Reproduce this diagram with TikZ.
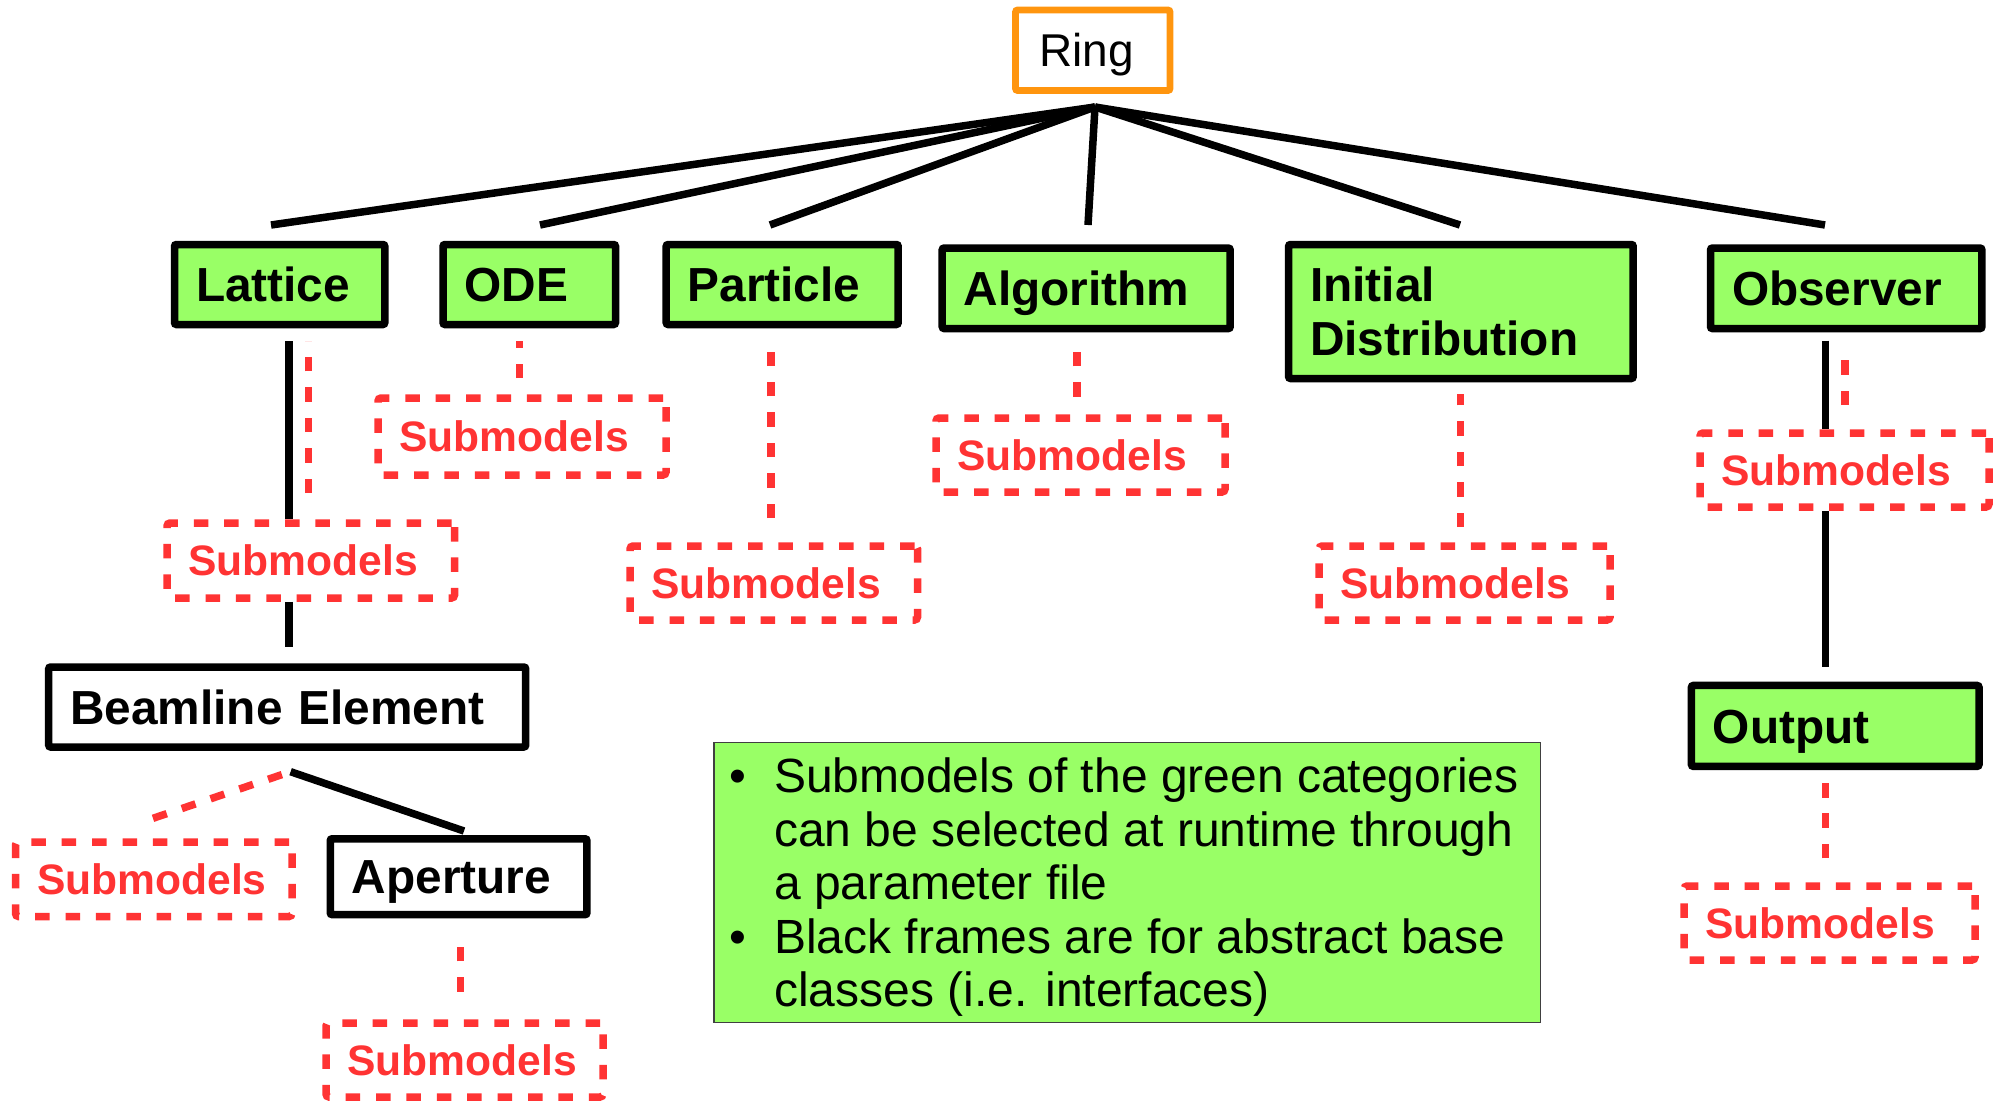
\documentclass[tikz,border=0pt]{standalone}
\usepackage{fontspec}
\setmainfont{Liberation Sans}
\definecolor{boxgreen}{HTML}{99FF66}
\definecolor{subred}{HTML}{FF3333}
\definecolor{ringorange}{HTML}{FF950E}
\begin{document}
\begin{tikzpicture}[x=1pt,y=-1pt,
  boxbase/.style={draw, line width=7.5pt, rounded corners=2pt, inner xsep=21.5pt, inner ysep=0pt, align=left,
    font=\bfseries\fontsize{47.8pt}{54pt}\selectfont},
  onel/.style={text height=34.2pt, text depth=0pt},
  gbox/.style={boxbase, fill=boxgreen},
  wbox/.style={boxbase, fill=white},
  ringbox/.style={draw=ringorange, line width=6.7pt, rounded corners=2pt, inner xsep=23.5pt, inner ysep=0pt, align=left,
    font=\fontsize{46pt}{52pt}\selectfont, text height=33pt, text depth=0pt},
  sbox/.style={draw=subred, line width=7.5pt, dash pattern=on 14.5pt off 15.9pt, rounded corners=3pt,
    inner xsep=21.5pt, inner ysep=0pt, align=left, text=subred,
    font=\bfseries\fontsize{42.6pt}{48pt}\selectfont, text height=30.5pt, text depth=0pt},
  conn/.style={line width=7.5pt, draw=black},
  dconn/.style={line width=7.5pt, draw=subred, dash pattern=on 14.5pt off 15.9pt},
  notebox/.style={draw=black!75, line width=1.5pt, fill=boxgreen, inner sep=0pt},
  notetext/.style={inner sep=0pt, anchor=base west, font=\fontsize{48pt}{53.5pt}\selectfont}
]
\useasboundingbox (0,0) rectangle (2001,1100);

% ---------- main nodes ----------
\node[ringbox, text width=107.5pt, minimum height=80.5pt] (ring) at (1092.75,50.25) {Ring};

\node[gbox, onel, text width=167.3pt, minimum height=80pt] (lattice) at (279.65,284.5) {Lattice};
\node[gbox, onel, text width=129.5pt, minimum height=80pt] (ode) at (529.25,284.5) {ODE};
\node[gbox, onel, text width=189pt, minimum height=80pt] (particle) at (782.2,284.5) {Particle};
\node[gbox, onel, text width=245pt, minimum height=80.5pt] (algorithm) at (1086.2,288.3) {Algorithm};
\node[gbox, text width=301.6pt, minimum height=134pt] (initdist) at (1460.9,311.5) {Initial\\Distribution};
\node[gbox, onel, text width=228.4pt, minimum height=80.5pt] (observer) at (1846.2,288.3) {Observer};
\node[gbox, onel, text width=244.6pt, minimum height=80.9pt] (output) at (1835.2,725.9) {Output};
\node[wbox, onel, text width=434pt, minimum height=80pt] (beamline) at (287.2,707) {Beamline Element};
\node[wbox, onel, text width=213.7pt, minimum height=75.9pt] (aperture) at (458.6,876.7) {Aperture};

% ---------- submodel nodes ----------
\node[sbox, text width=245pt, minimum height=77pt] (odesub) at (522,436.5) {Submodels};
\node[sbox, text width=244.5pt, minimum height=75pt] (latsub) at (310.75,560.5) {Submodels};
\node[sbox, text width=244.5pt, minimum height=74pt] (parsub) at (773.75,583) {Submodels};
\node[sbox, text width=246pt, minimum height=74pt] (algsub) at (1080.5,455) {Submodels};
\node[sbox, text width=248pt, minimum height=74pt] (initsub) at (1464.5,583) {Submodels};
\node[sbox, text width=246pt, minimum height=74pt] (obssub) at (1844.5,470) {Submodels};
\node[sbox, text width=248pt, minimum height=74pt] (outsub) at (1829.5,923) {Submodels};
\node[sbox, text width=233.5pt, minimum height=74.5pt] (beamsub) at (153.75,879.25) {Submodels};
\node[sbox, text width=234pt, minimum height=74pt] (apsub) at (464.5,1060) {Submodels};

% ---------- note ----------
\node[notebox, minimum width=826.7pt, minimum height=280.4pt] (note) at (1127.35,882.5) {};
\node[notetext] (note1) at (774,792.7) {\llap{\textbullet\hspace{27.6pt}}Submodels of the green categories};
\node[notetext] (note2) at (774,846.2) {can be selected at runtime through};
\node[notetext] (note3) at (774,899.7) {a parameter file};
\node[notetext] (note4) at (774,953.2) {\llap{\textbullet\hspace{27.6pt}}Black frames are for abstract base};
\node[notetext] (note5) at (774,1006.7) {classes (i.e. interfaces)};

% ---------- connector ends ----------
\coordinate (apex) at (1095,107);
\coordinate (latTop) at (271,225);
\coordinate (odeTop) at (540,225);
\coordinate (parTop) at (770,225);
\coordinate (algTop) at (1088,225);
\coordinate (initTop) at (1460,225);
\coordinate (obsTop) at (1825,225);

\foreach \t in {latTop,odeTop,parTop,algTop,initTop,obsTop}
  \draw[conn] (apex) -- (\t);

% Lattice -> Beamline Element (solid, interrupted by Submodels)
\coordinate (latA) at (289,341);
\coordinate (latD) at (289,647.3);
\draw[conn] (latA) -- (latA |- latsub.north);
\draw[conn] (latD |- latsub.south) -- (latD);
% Lattice -> Submodels (dashed)
\coordinate (latE) at (308.5,493);
\coordinate (latF) at (308.5,341);
\draw[dconn] (latE) -- (latF);

% ODE
\coordinate (odeB) at (519.7,378);
\coordinate (odeA) at (519.7,341);
\draw[dconn] (odeB) -- (odeA);
% Particle
\coordinate (parB) at (771,518);
\coordinate (parA) at (771,352.3);
\draw[dconn] (parB) -- (parA);
% Algorithm
\coordinate (algB) at (1077,396.7);
\coordinate (algA) at (1077,352);
\draw[dconn] (algB) -- (algA);
% Initial Distribution
\coordinate (initB) at (1460.7,527);
\coordinate (initA) at (1460.7,394);
\draw[dconn] (initB) -- (initA);
% Observer -> Output (solid, interrupted by Submodels)
\coordinate (obsA) at (1825.5,340.7);
\coordinate (obsD) at (1825.5,666.7);
\draw[conn] (obsA) -- (obsA |- obssub.north);
\draw[conn] (obsD |- obssub.south) -- (obsD);
% Observer -> Submodels (dashed)
\coordinate (obsE) at (1845,405);
\coordinate (obsF) at (1845,360);
\draw[dconn] (obsE) -- (obsF);
% Output
\coordinate (outB) at (1825.6,858.3);
\coordinate (outA) at (1825.6,782.7);
\draw[dconn] (outB) -- (outA);
% Beamline Element -> Aperture / Submodels
\coordinate (beamA) at (290.6,771.7);
\coordinate (apTop) at (464,831);
\draw[conn] (beamA) -- (apTop);
\coordinate (beamSubTop) at (153,818.3);
\coordinate (beamB) at (283.7,774);
\draw[dconn] (beamSubTop) -- (beamB);
% Aperture
\coordinate (apB) at (460.5,991.7);
\coordinate (apA) at (460.5,946);
\draw[dconn] (apB) -- (apA);
\end{tikzpicture}
\end{document}
